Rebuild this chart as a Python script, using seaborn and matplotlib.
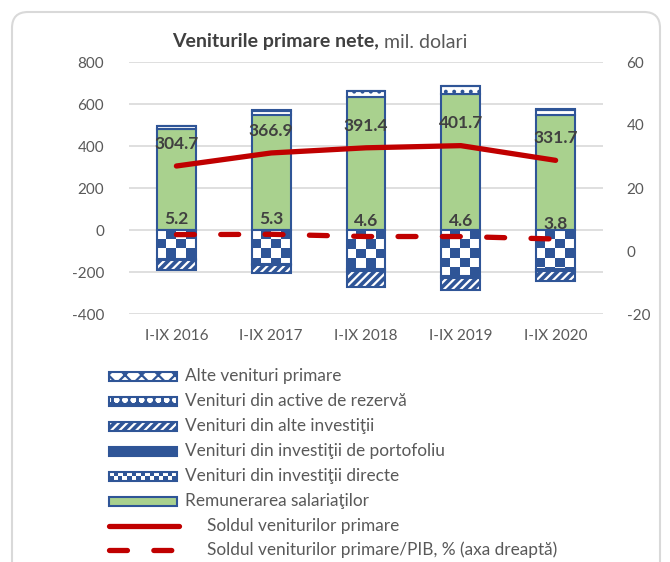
import numpy as np
import matplotlib
matplotlib.use("Agg")
import matplotlib.pyplot as plt
from matplotlib.patches import Rectangle, FancyBboxPatch
from matplotlib.lines import Line2D
from matplotlib.colors import ListedColormap
import seaborn as sns

# ---------------- data ----------------
categories = ['I-IX 2016', 'I-IX 2017', 'I-IX 2018', 'I-IX 2019', 'I-IX 2020']
remunerare = [480, 550, 633, 650, 548]          # Remunerarea salariaţilor
directe = [-140, -163, -185, -220, -188]        # Venituri din investiţii directe
portofoliu = [-5, -5, -8, -8, -7]               # Venituri din investiţii de portofoliu
alte_investitii = [-45, -35, -77, -58, -48]     # Venituri din alte investiţii
rezerva = [13, 18, 27, 35, 25]                  # Venituri din active de rezervă
alte_primare = [3, 3, 3, 3, 3]                  # Alte venituri primare
sold = [304.7, 366.9, 391.4, 401.7, 331.7]      # Soldul veniturilor primare
sold_pib = [5.2, 5.3, 4.6, 4.6, 3.8]            # Soldul veniturilor primare/PIB, %
left_ticks = [-400, -200, 0, 200, 400, 600, 800]
right_ticks = [-20, 0, 20, 40, 60]

BLUE = '#2F5597'
GREEN = '#A9D18E'
RED = '#C00000'
GRID = '#D9D9D9'
TXT = '#595959'
LBL = '#404040'
FONT = ['Lato', 'DejaVu Sans']

sns.set_theme(style='white')
plt.rcParams['font.family'] = FONT
plt.rcParams['hatch.linewidth'] = 1.6

W, H = 670, 562
fig = plt.figure(figsize=(W / 100, H / 100), dpi=100)
ax = fig.add_axes([129 / W, 1 - 314 / H, (603 - 129) / W, (314 - 62) / H])

n = len(categories)
idx = np.arange(n)
BW = 0.41


def stack(values, bottom, face, hatch=None, hatch_color=None, zorder=2):
    n0 = len(ax.patches)
    sns.barplot(x=categories, y=values, bottom=bottom, color=face, saturation=1,
                width=BW, ax=ax, zorder=zorder)
    new = ax.patches[n0:]
    for p in new:
        p.set_facecolor(face)
        if hatch:
            p.set_hatch(hatch)
            p.set_edgecolor(hatch_color)
            p.set_linewidth(0)
        else:
            p.set_edgecolor(BLUE)
            p.set_linewidth(1.5)
    if hatch:
        n1 = len(ax.patches)
        sns.barplot(x=categories, y=values, bottom=bottom, fill=False, color=BLUE,
                    width=BW, ax=ax, zorder=zorder + 0.1)
        for p in ax.patches[n1:]:
            p.set_edgecolor(BLUE)
            p.set_linewidth(1.5)
            p.set_facecolor('none')
    return new


zeros = np.zeros(n)
# positive stack
pos1 = np.array(remunerare, float)
stack(remunerare, zeros, GREEN)
stack(rezerva, pos1, 'white', hatch='..', hatch_color=BLUE)
stack(alte_primare, pos1 + np.array(rezerva), 'white', hatch='xx', hatch_color=BLUE)

# negative stack
d = np.array(directe, float)
dir_patches = stack(directe, zeros, 'white')
stack(portofoliu, d, BLUE)
stack(alte_investitii, d + np.array(portofoliu), BLUE, hatch='////', hatch_color='white')

# checkerboard fill for direct investment bars
sq_x = 0.1
sq_y = 45.0
cmap = ListedColormap(['white', BLUE])
for p in dir_patches:
    x0 = p.get_x()
    wdt = p.get_width()
    y0 = p.get_y()
    hgt = p.get_height()
    ybot = min(y0, y0 + hgt)
    ytop = max(y0, y0 + hgt)
    ncol = int(np.ceil(wdt / sq_x))
    nrow = int(np.ceil((ytop - ybot) / sq_y)) + 1
    board = (np.add.outer(np.arange(nrow), np.arange(ncol)) % 2).astype(float)
    im = ax.imshow(board, cmap=cmap, vmin=0, vmax=1, interpolation='nearest',
                   extent=[x0, x0 + ncol * sq_x, ytop - nrow * sq_y, ytop],
                   origin='upper', aspect='auto', zorder=2.05)
    im.set_clip_path(p)
    p.set_zorder(2.1)
    p.set_facecolor('none')

# solid line
sns.lineplot(x=idx, y=sold, ax=ax, color=RED, linewidth=3.8, zorder=5, legend=False)
ax.lines[-1].set_solid_capstyle('round')
for i, v in enumerate(sold):
    ax.annotate(f'{v:.1f}', (idx[i], v), xytext=(0, 16), textcoords='offset points',
                ha='center', va='center', fontsize=12.5, fontweight='bold', color=LBL,
                zorder=6)

ax.set_xlim(-0.5, n - 0.5)
ax.set_ylim(-400, 800)
ax.set_yticks(left_ticks)
ax.set_yticklabels([str(t) for t in left_ticks])
ax.set_xticks(idx)
ax.set_xticklabels(categories)
ax.set_xlabel('')
ax.set_ylabel('')
ax.yaxis.grid(True, color=GRID, linewidth=1.2)
ax.xaxis.grid(False)
ax.set_axisbelow(True)
for s in ax.spines.values():
    s.set_visible(False)
ax.tick_params(axis='y', length=0, pad=18, labelsize=11, labelcolor=TXT)
ax.tick_params(axis='x', length=0, pad=11, labelsize=11, labelcolor=TXT)

# secondary axis
ax2 = ax.twinx()
sns.lineplot(x=idx, y=sold_pib, ax=ax2, color=RED, linewidth=3.8, zorder=5, legend=False)
dl = ax2.lines[-1]
dl.set_linestyle((0, (3.4, 5.0)))
dl.set_dash_capstyle('round')
for i, v in enumerate(sold_pib):
    ax2.annotate(f'{v:.1f}', (idx[i], v), xytext=(0, 11), textcoords='offset points',
                 ha='center', va='center', fontsize=12.5, fontweight='bold', color=LBL,
                 zorder=6)
ax2.set_ylim(-20, 60)
ax2.set_yticks(right_ticks)
ax2.set_yticklabels([str(t) for t in right_ticks])
ax2.set_ylabel('')
ax2.grid(False)
for s in ax2.spines.values():
    s.set_visible(False)
ax2.tick_params(axis='y', length=0, pad=17, labelsize=11, labelcolor=TXT)
ax.set_xlim(-0.5, n - 0.5)

# title
t1 = fig.text(172 / W, 1 - 42 / H, 'Veniturile primare nete,', fontsize=14,
              fontweight='bold', color=LBL, ha='left', va='center')
ax.annotate(' mil. dolari', xy=(1, 0.5), xycoords=t1, ha='left', va='center',
            fontsize=14, color=TXT, annotation_clip=False)

# chart border
border = FancyBboxPatch((12, -40), 648, 590, boxstyle='round,pad=0,rounding_size=16',
                        transform=None, facecolor='none', edgecolor=GRID, linewidth=1.5)
fig.add_artist(border)

# legend (manual)
def px(x, y):
    return (x / W, 1 - y / H)

rows = [376, 401, 426, 451, 476, 501, 526, 550]
labels = ['Alte venituri primare', 'Venituri din active de rezervă',
          'Venituri din alte investiţii', 'Venituri din investiţii de portofoliu',
          'Venituri din investiţii directe', 'Remunerarea salariaţilor',
          'Soldul veniturilor primare', 'Soldul veniturilor primare/PIB, % (axa dreaptă)']
LFS = 12.4
x0p, x1p = 109, 177
ph = 9
specs = [('white', 'xx', BLUE), (BLUE, 'oo', 'white'), (BLUE, '////', 'white'),
         (BLUE, None, None), ('checker', None, None), (GREEN, None, None)]
for k, (face, hatch, hc) in enumerate(specs):
    y = rows[k]
    xy = px(x0p, y + ph / 2)
    wf = (x1p - x0p) / W
    hf = ph / H
    if face == 'checker':
        fig.add_artist(Rectangle(xy, wf, hf, transform=fig.transFigure,
                                 facecolor='white', edgecolor='none'))
        sq = 4.5
        ncol = int((x1p - x0p) / sq)
        for r in range(2):
            for c in range(ncol):
                if (r + c) % 2 == 0:
                    fig.add_artist(Rectangle(px(x0p + c * sq, y + ph / 2 - r * sq),
                                             sq / W, sq / H, transform=fig.transFigure,
                                             facecolor=BLUE, edgecolor='none'))
    elif hatch:
        fig.add_artist(Rectangle(xy, wf, hf, transform=fig.transFigure,
                                 facecolor=face, edgecolor=hc, linewidth=0, hatch=hatch))
    else:
        fig.add_artist(Rectangle(xy, wf, hf, transform=fig.transFigure,
                                 facecolor=face, edgecolor='none'))
    fig.add_artist(Rectangle(xy, wf, hf, transform=fig.transFigure,
                             facecolor='none', edgecolor=BLUE, linewidth=1.5))
    fig.text(*px(185, y), labels[k], fontsize=LFS, color=TXT, ha='left', va='center')

fig.add_artist(Line2D([x0p / W, 179 / W], [1 - rows[6] / H] * 2, color=RED, lw=3.8,
                      solid_capstyle='round'))
fig.add_artist(Line2D([x0p / W, 179 / W], [1 - rows[7] / H] * 2, color=RED, lw=3.8,
                      linestyle=(0, (3.4, 5.0)), dash_capstyle='round'))
fig.text(*px(207, rows[6]), labels[6], fontsize=LFS, color=TXT, ha='left', va='center')
fig.text(*px(207, rows[7]), labels[7], fontsize=LFS, color=TXT, ha='left', va='center')

fig.savefig('out.png', dpi=100)
